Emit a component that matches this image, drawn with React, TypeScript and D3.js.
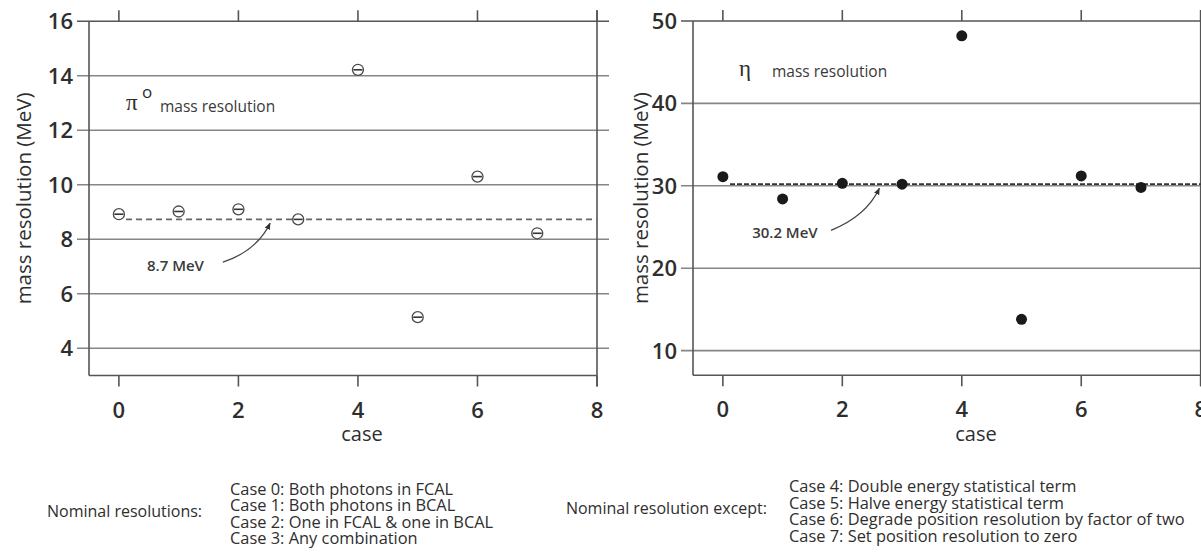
import React from "react";
import * as d3 from "d3";

// ---------- data ----------
const CASES = [0, 1, 2, 3, 4, 5, 6, 7];
const PI0_RES = [8.92, 9.02, 9.1, 8.73, 14.22, 5.14, 10.3, 8.22];
const ETA_RES = [31.1, 28.4, 30.3, 30.2, 48.2, 13.8, 31.2, 29.8];
const PI0_NOMINAL = 8.73;
const ETA_NOMINAL = 30.2;
const PI0_NOMINAL_LABEL = "8.7 MeV";
const ETA_NOMINAL_LABEL = "30.2 MeV";
const X_TICKS = [0, 2, 4, 6, 8];
const X_DOMAIN = [-0.5, 8];
const PI0_Y_TICKS = [4, 6, 8, 10, 12, 14, 16];
const ETA_Y_TICKS = [10, 20, 30, 40, 50];
const PI0_Y_DOMAIN = [3, 16];
const ETA_Y_DOMAIN = [7, 50];
// annotation arrows in data coordinates: [start, bend, tip]
const PI0_ARROW = [[1.74, 7.16], [2.3, 7.56], [2.53, 8.59]];
const ETA_ARROW = [[1.81, 24.6], [2.4, 26.3], [2.62, 29.7]];
const PI0_LABEL_AT = [0.47, 7.05];
const ETA_LABEL_AT = [0.49, 24.3];
const LEFT_NOTES = [
  "Case 0: Both photons in FCAL",
  "Case 1: Both photons in BCAL",
  "Case 2: One in FCAL & one in BCAL",
  "Case 3: Any combination",
];
const RIGHT_NOTES = [
  "Case 4: Double energy statistical term",
  "Case 5: Halve energy statistical term",
  "Case 6: Degrade position resolution by factor of two",
  "Case 7: Set position resolution to zero",
];

const FONT = "'Open Sans', 'Noto Sans', sans-serif";
const SERIF = "'Liberation Serif', 'DejaVu Serif', serif";
const FRAME = "#555";
const GRID = "#858585";
const TEXT = "#2e2e2e";

type PanelProps = {
  left: number;
  right: number;
  top: number;
  bottom: number;
  yDomain: number[];
  yTicks: number[];
  values: number[];
  nominal: number;
  nominalLabel: string;
  labelAt: number[];
  arrow: number[][];
  filled: boolean;
  id: string;
  xLabelX: number;
  yLabelX: number;
  dash: string;
  dashColor: string;
};

function Panel(p: PanelProps) {
  const x = d3.scaleLinear().domain(X_DOMAIN).range([p.left, p.right]);
  const y = d3.scaleLinear().domain(p.yDomain).range([p.bottom, p.top]);
  const tick = 12;
  const x0 = x(X_DOMAIN[0]);
  const x1 = x(X_DOMAIN[1]);
  const yTop = y(p.yDomain[1]);
  const yBot = y(p.yDomain[0]);
  const arrowPts = p.arrow.map(([a, b]) => [x(a), y(b)]);
  const arrowPath = `M${arrowPts[0][0]},${arrowPts[0][1]} Q${arrowPts[1][0]},${arrowPts[1][1]} ${arrowPts[2][0]},${arrowPts[2][1]}`;
  const r = 5.5;
  return (
    <g>
      {p.yTicks.map((t) => (
        <line
          key={"g" + t}
          x1={x0 - tick}
          x2={x1 + tick}
          y1={y(t)}
          y2={y(t)}
          stroke={t === p.yDomain[1] ? FRAME : GRID}
          strokeWidth={1.6}
        />
      ))}
      <line x1={x0} x2={x1} y1={yBot} y2={yBot} stroke={FRAME} strokeWidth={1.6} />
      <line x1={x0} x2={x0} y1={yTop} y2={yBot} stroke={FRAME} strokeWidth={1.6} />
      {X_TICKS.map((t) => (
        <g key={"xt" + t}>
          <line x1={x(t)} x2={x(t)} y1={yTop - 11} y2={yTop} stroke={FRAME} strokeWidth={1.6} />
          <line x1={x(t)} x2={x(t)} y1={yBot} y2={yBot + 11} stroke={FRAME} strokeWidth={1.6} />
        </g>
      ))}
      <line x1={x1} x2={x1} y1={yTop - 11} y2={yBot + 11} stroke={FRAME} strokeWidth={1.6} />
      {p.yTicks.map((t) => (
        <text
          key={"yl" + t}
          x={x0 - 16}
          y={y(t) + 8}
          textAnchor="end"
          fontFamily={FONT}
          fontWeight={600}
          fontSize={22}
          fill={TEXT}
        >
          {t}
        </text>
      ))}
      {X_TICKS.map((t) => (
        <text
          key={"xl" + t}
          x={x(t)}
          y={yBot + 42}
          textAnchor="middle"
          fontFamily={FONT}
          fontWeight={600}
          fontSize={22}
          fill={TEXT}
        >
          {t}
        </text>
      ))}
      <text x={p.xLabelX} y={441} textAnchor="middle" fontFamily={FONT} fontSize={20} fill={TEXT}>
        case
      </text>
      <text
        transform={`translate(${p.yLabelX},${(yTop + yBot) / 2}) rotate(-90)`}
        textAnchor="middle"
        fontFamily={FONT}
        fontSize={20.5}
        fill={TEXT}
      >
        mass resolution (MeV)
      </text>
      <line
        x1={x(0.12)}
        x2={x1}
        y1={y(p.nominal)}
        y2={y(p.nominal)}
        stroke={p.dashColor}
        strokeWidth={1.6}
        strokeDasharray={p.dash}
      />
      <path d={arrowPath} fill="none" stroke="#444" strokeWidth={1.3} markerEnd={`url(#arr-${p.id})`} />
      <text
        x={x(p.labelAt[0])}
        y={y(p.labelAt[1]) + 5.5}
        fontFamily={FONT}
        fontWeight={600}
        fontSize={15}
        fill="#3a3a3a"
      >
        {p.nominalLabel}
      </text>
      {CASES.map((c, i) =>
        p.filled ? (
          <circle key={"p" + c} cx={x(c)} cy={y(p.values[i])} r={r} fill="#1a1a1a" />
        ) : (
          <g key={"p" + c}>
            <circle cx={x(c)} cy={y(p.values[i])} r={r} fill="#fff" stroke="#4a4a4a" strokeWidth={1.3} />
            <line
              x1={x(c) - r + 1}
              x2={x(c) + r - 1}
              y1={y(p.values[i])}
              y2={y(p.values[i])}
              stroke="#333"
              strokeWidth={1.6}
            />
          </g>
        )
      )}
    </g>
  );
}

export default function App() {
  return (
    <svg
      width={1201}
      height={553}
      viewBox="0 0 1201 553"
      style={{ position: "absolute", left: 0, top: 0, background: "#fff" }}
    >
      <defs>
        {["l", "r"].map((id) => (
          <marker
            key={id}
            id={`arr-${id}`}
            viewBox="0 0 10 10"
            refX={9}
            refY={5}
            markerWidth={7}
            markerHeight={7}
            markerUnits="userSpaceOnUse"
            orient="auto"
          >
            <path d="M0,1 L10,5 L0,9 Z" fill="#333" />
          </marker>
        ))}
      </defs>
      <rect x={0} y={0} width={1201} height={553} fill="#fff" />
      <Panel
        id="l"
        left={89}
        right={597}
        top={21.3}
        bottom={375.5}
        yDomain={PI0_Y_DOMAIN}
        yTicks={PI0_Y_TICKS}
        values={PI0_RES}
        nominal={PI0_NOMINAL}
        nominalLabel={PI0_NOMINAL_LABEL}
        labelAt={PI0_LABEL_AT}
        arrow={PI0_ARROW}
        filled={false}
        xLabelX={362}
        yLabelX={31}
        dash="6,4"
        dashColor="#666"
      />
      <Panel
        id="r"
        left={693}
        right={1200.7}
        top={21}
        bottom={375.3}
        yDomain={ETA_Y_DOMAIN}
        yTicks={ETA_Y_TICKS}
        values={ETA_RES}
        nominal={ETA_NOMINAL}
        nominalLabel={ETA_NOMINAL_LABEL}
        labelAt={ETA_LABEL_AT}
        arrow={ETA_ARROW}
        filled={true}
        xLabelX={976}
        yLabelX={648}
        dash="5,2"
        dashColor="#333"
      />
      <text x={126} y={110} fontFamily={SERIF} fontSize={23} fill={TEXT}>
        π
      </text>
      <text x={142} y={98} fontFamily={FONT} fontSize={17} fill={TEXT}>
        o
      </text>
      <text x={160} y={112} fontFamily={FONT} fontSize={15.5} fill="#3a3a3a">
        mass resolution
      </text>
      <text x={739} y={76} fontFamily={SERIF} fontSize={23} fill={TEXT}>
        η
      </text>
      <text x={772} y={77} fontFamily={FONT} fontSize={15.5} fill="#3a3a3a">
        mass resolution
      </text>
      <text x={47} y={517} fontFamily={FONT} fontSize={16} fill={TEXT}>
        Nominal resolutions:
      </text>
      {LEFT_NOTES.map((s, i) => (
        <text key={s} x={230} y={495 + i * 16.4} fontFamily={FONT} fontSize={16.4} fill={TEXT}>
          {s}
        </text>
      ))}
      <text x={767} y={514} textAnchor="end" fontFamily={FONT} fontSize={16} fill={TEXT}>
        Nominal resolution except:
      </text>
      {RIGHT_NOTES.map((s, i) => (
        <text key={s} x={789} y={492 + i * 16.6} fontFamily={FONT} fontSize={16.4} fill={TEXT}>
          {s}
        </text>
      ))}
    </svg>
  );
}
